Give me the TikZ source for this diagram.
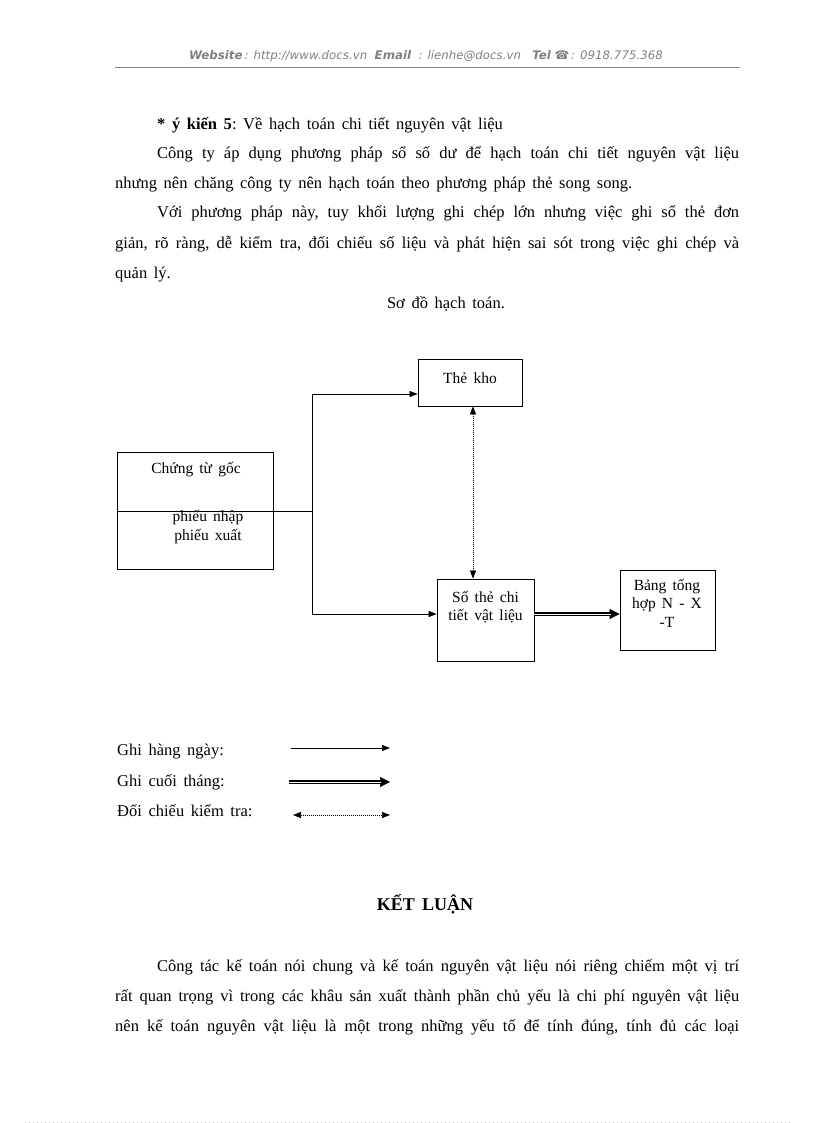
\documentclass[tikz,border=0pt]{standalone}
\usepackage{fontspec}
\setmainfont{Liberation Serif}
\newfontfamily\hdrfont{DejaVu Sans}
\usetikzlibrary{arrows.meta,calc}
\newcommand{\widesp}{\frenchspacing\spaceskip=0.4em plus 0.4em minus 0.12em\relax}
\tikzset{
  body/.style={anchor=base west, inner sep=0pt, font=\fontsize{16.5}{19}\selectfont\widesp},
  dtext/.style={inner sep=0pt, font=\fontsize{15.5}{18.5}\selectfont\widesp},
  boxn/.style={draw, line width=0.8pt, inner sep=0pt},
  conn/.style={line width=0.7pt},
  tip/.style={-{Triangle[length=8pt,width=6pt]}},
  dots/.style={line width=0.7pt, dash pattern=on 1pt off 1pt, {Triangle[length=8pt,width=6pt]}-{Triangle[length=8pt,width=6pt]}},
  dblline/.style={double, double distance=1pt, line width=1.4pt}
}
\begin{document}
\begin{tikzpicture}[x=1pt,y=-1pt]
\useasboundingbox (0,0) rectangle (816,1123);
% header
\node[inner sep=0pt, text=gray, font=\hdrfont\fontsize{11.8}{13}\selectfont\itshape] (hdr) at (426,56)
 {\textbf{Website}\,: http://www.docs.vn\ \ \textbf{Email}\ \ : lienhe@docs.vn\ \ \ \textbf{Tel} ☎\,: 0918.775.368};
\draw[gray, line width=0.8pt] (115,67) -- (740,67);
% text paragraph
\node[body] (p1) at (157,130) {\textbf{* ý kiến 5}: Về hạch toán chi tiết nguyên vật liệu};
\node[body] (p2) at (157,159) {\makebox[582pt][s]{Công ty áp dụng phương pháp sổ số dư để hạch toán chi tiết nguyên vật liệu}};
\node[body] (p3) at (115,189) {nhưng nên chăng công ty nên hạch toán theo phương pháp thẻ song song.};
\node[body] (p4) at (157,218) {\makebox[582pt][s]{Với phương pháp này, tuy khối lượng ghi chép lớn nhưng việc ghi sổ thẻ đơn}};
\node[body] (p5) at (115,248) {\makebox[624pt][s]{giản, rõ ràng, dễ kiểm tra, đối chiếu số liệu và phát hiện sai sót trong việc ghi chép và}};
\node[body] (p6) at (115,278) {quản lý.};
\node[body, anchor=base] (title) at (446,308) {Sơ đồ hạch toán.};
% diagram boxes
\node[boxn, minimum width=104pt, minimum height=47pt] (k) at (470,382.5) {};
\node[dtext] (kt) at (470,378) {Thẻ kho};
\node[boxn, minimum width=156pt, minimum height=117pt] (c) at (195,510.5) {};
\node[dtext] (ct) at (196,470) {Chứng từ gốc};
\node[dtext, align=center] (ct2) at (208,527) {phiếu nhập\\phiếu xuất};
\node[boxn, minimum width=97pt, minimum height=82pt] (s) at (485.5,620) {};
\node[dtext, align=center] (st) at (485.5,607) {Sổ thẻ chi\\tiết vật liệu};
\node[boxn, minimum width=95pt, minimum height=80pt] (b) at (667.5,610) {};
\node[dtext, align=center] (bt) at (667,603) {Bảng tổng\\hợp N - X\\-T};
% connectors
\coordinate (jm) at (312,511);
\coordinate (j1) at (312,394);
\coordinate (j2) at (312,614);
\coordinate (dx) at (473,0);
\draw[conn] (c.west |- jm) -- (jm);
\draw[conn] (j1) -- (j2);
\draw[conn, tip] (j1) -- (k.west |- j1);
\draw[conn, tip] (j2) -- (s.west |- j2);
\draw[dots] (k.south -| dx) -- (s.north -| dx);
\draw[line width=0.6pt, -{Triangle[length=10pt,width=10pt]}] (s.east |- j2) -- (b.west |- j2);
\draw[dblline, shorten >=9pt] (s.east |- j2) -- (b.west |- j2);
% legend
\node[body] (l1) at (117,755) {Ghi hàng ngày:};
\node[body] (l2) at (117,786) {Ghi cuối tháng:};
\node[body] (l3) at (117,816) {Đối chiếu kiểm tra:};
\coordinate (a1s) at (291,748); \coordinate (a1e) at (390,748);
\coordinate (a2s) at (289,782); \coordinate (a2e) at (390,782);
\coordinate (a3s) at (293,815); \coordinate (a3e) at (390,815);
\draw[conn, tip] (a1s) -- (a1e);
\draw[line width=0.6pt, -{Triangle[length=10pt,width=10pt]}] (a2s) -- (a2e);
\draw[dblline, shorten >=9pt] (a2s) -- (a2e);
\draw[dots] (a3s) -- (a3e);
% conclusion
\node[body, anchor=base, font=\fontsize{18}{20}\selectfont\bfseries\widesp] (kl) at (425,910) {KẾT LUẬN};
\node[body] (q1) at (157,971) {\makebox[582pt][s]{Công tác kế toán nói chung và kế toán nguyên vật liệu nói riêng chiếm một vị trí}};
\node[body] (q2) at (115,1001) {\makebox[624pt][s]{rất quan trọng vì trong các khâu sản xuất thành phần chủ yếu là chi phí nguyên vật liệu}};
\node[body] (q3) at (115,1031) {\makebox[624pt][s]{nên kế toán nguyên vật liệu là một trong những yếu tố để tính đúng, tính đủ các loại}};
\draw[gray!50, line width=0.5pt, dash pattern=on 1pt off 3pt] (25,1122) -- (792,1122);
\end{tikzpicture}
\end{document}
